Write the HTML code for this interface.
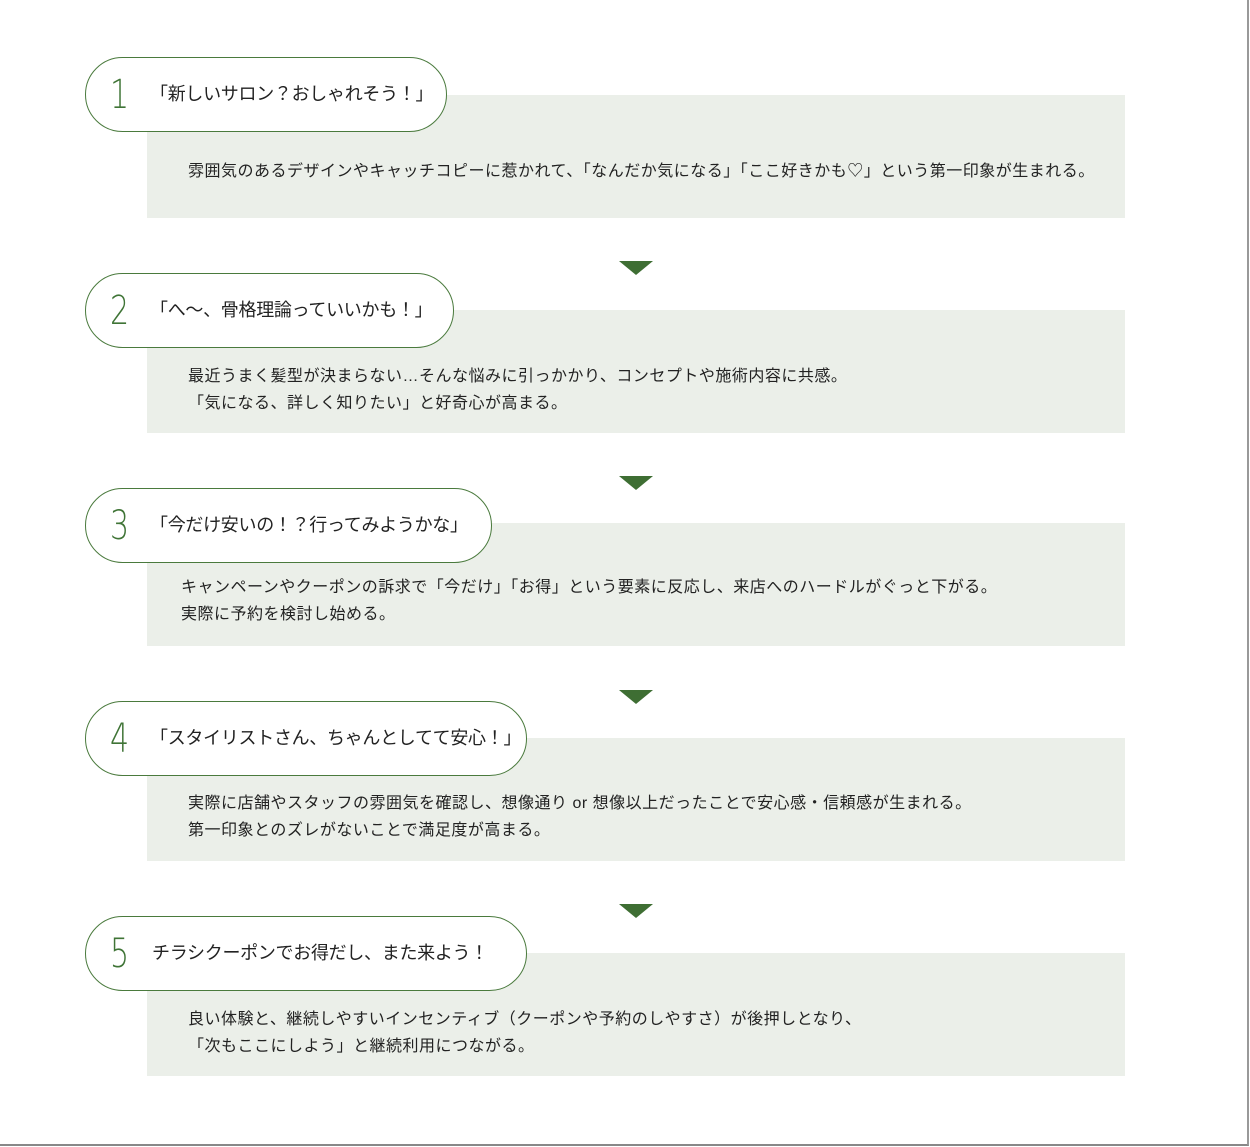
<!DOCTYPE html>
<html><head><meta charset="utf-8"><style>
*{margin:0;padding:0;box-sizing:border-box}
html,body{width:1250px;height:1147px;background:#fff;overflow:hidden;position:relative;font-family:"Liberation Sans","Noto Sans CJK JP",sans-serif;color:#222}
.frame{position:absolute;left:0;top:0;width:1249px;height:1146px;border-right:2px solid #999;border-bottom:2px solid #888}
.box{position:absolute;left:147px;width:978px;height:123px;background:#ebefe9}
.box p{position:absolute;font-size:16px;line-height:27px;white-space:nowrap;letter-spacing:0.5px}
.pill{position:absolute;left:85px;height:75px;border:1.5px solid #4a7a3d;border-radius:38px;background:#fff}
.num{position:absolute;left:24px;top:12px;font-size:40px;font-weight:200;color:#3f7436;line-height:50px;font-family:"DejaVu Sans",sans-serif;transform:scaleX(0.75);transform-origin:left}
.tt{position:absolute;left:64px;top:22px;font-size:18px;line-height:28px;white-space:nowrap;letter-spacing:-0.3px}
.arr{position:absolute;left:619px;width:0;height:0;border-left:17px solid transparent;border-right:17px solid transparent;border-top:14px solid #3e6e33}
</style></head><body>
<div class="frame"></div>

<div class="box" style="top:95px"><p style="left:41px;top:63px">雰囲気のあるデザインやキャッチコピーに惹かれて、「なんだか気になる」「ここ好きかも♡」という第一印象が生まれる。</p></div>
<div class="pill" style="top:57px;width:362px"><span class="num">1</span><span class="tt">「新しいサロン？おしゃれそう！」</span></div>
<div class="arr" style="top:261px"></div>

<div class="box" style="top:310px"><p style="left:41px;top:53px">最近うまく髪型が決まらない…そんな悩みに引っかかり、コンセプトや施術内容に共感。<br>「気になる、詳しく知りたい」と好奇心が高まる。</p></div>
<div class="pill" style="top:273px;width:369px"><span class="num">2</span><span class="tt">「へ〜、骨格理論っていいかも！」</span></div>
<div class="arr" style="top:476px"></div>

<div class="box" style="top:523px"><p style="left:34px;top:51px">キャンペーンやクーポンの訴求で「今だけ」「お得」という要素に反応し、来店へのハードルがぐっと下がる。<br>実際に予約を検討し始める。</p></div>
<div class="pill" style="top:488px;width:407px"><span class="num">3</span><span class="tt">「今だけ安いの！？行ってみようかな」</span></div>
<div class="arr" style="top:690px"></div>

<div class="box" style="top:738px"><p style="left:41px;top:52px">実際に店舗やスタッフの雰囲気を確認し、想像通り or 想像以上だったことで安心感・信頼感が生まれる。<br>第一印象とのズレがないことで満足度が高まる。</p></div>
<div class="pill" style="top:701px;width:442px"><span class="num">4</span><span class="tt">「スタイリストさん、ちゃんとしてて安心！」</span></div>
<div class="arr" style="top:904px"></div>

<div class="box" style="top:953px"><p style="left:41px;top:53px">良い体験と、継続しやすいインセンティブ（クーポンや予約のしやすさ）が後押しとなり、<br>「次もここにしよう」と継続利用につながる。</p></div>
<div class="pill" style="top:916px;width:442px"><span class="num">5</span><span class="tt" style="left:66px">チラシクーポンでお得だし、また来よう！</span></div>
</body></html>
